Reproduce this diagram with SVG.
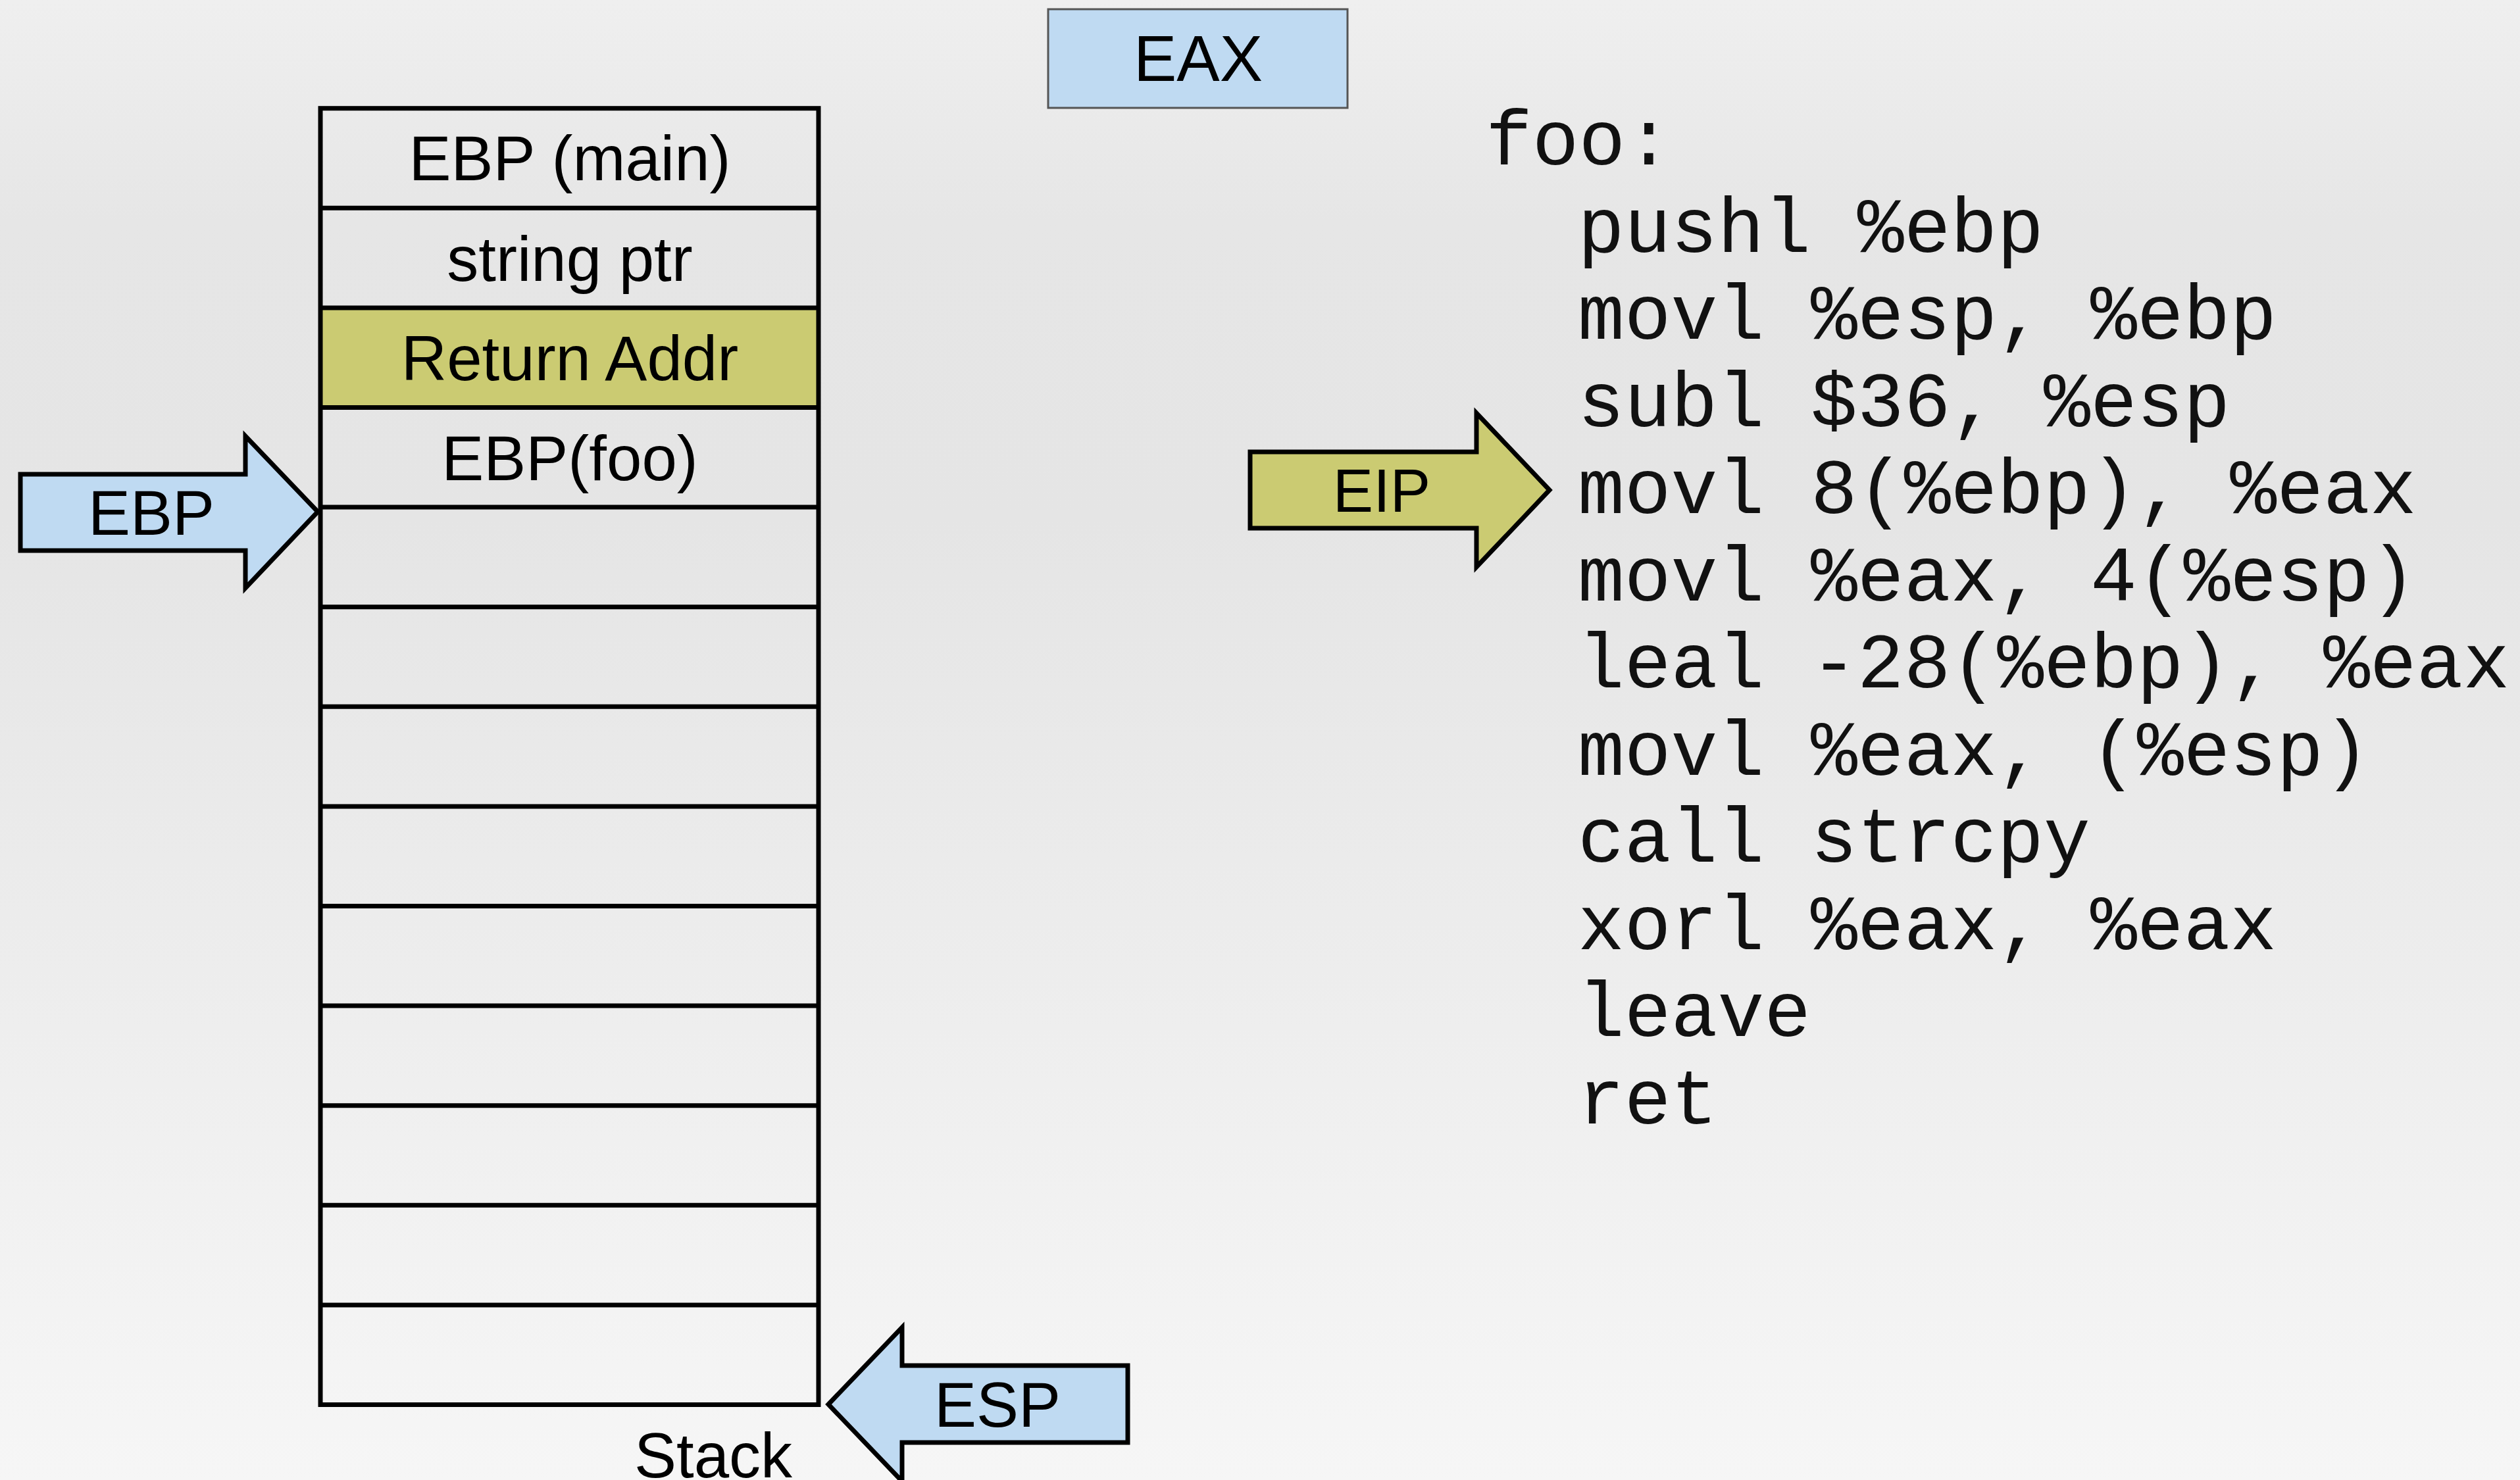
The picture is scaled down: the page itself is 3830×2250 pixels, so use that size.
<svg xmlns="http://www.w3.org/2000/svg" width="3830" height="2250" viewBox="0 0 3830 2250">
<defs>
<linearGradient id="bg" x1="0" y1="0" x2="0" y2="1">
<stop offset="0" stop-color="#efefef"/>
<stop offset="0.15" stop-color="#e6e6e6"/>
<stop offset="0.35" stop-color="#e5e5e5"/>
<stop offset="1" stop-color="#f6f6f6"/>
</linearGradient>
<style>
.lbl{font-family:"Liberation Sans",Arial,sans-serif;font-size:96px;fill:#000;text-anchor:middle}
.code{font-family:"Liberation Mono","Courier New",monospace;font-size:118px;fill:#111}
.cell{fill:none;stroke:#000;stroke-width:7}
.blue{fill:#bfdaf2;stroke:#000;stroke-width:7;stroke-linejoin:miter}
.olive{fill:#cbcb72;stroke:#000;stroke-width:7;stroke-linejoin:miter}
</style>
</defs>
<rect x="0" y="0" width="3830" height="2250" fill="url(#bg)"/>

<g id="eax">
<rect x="1593" y="14" width="455" height="150" fill="#bfdaf2" stroke="#555" stroke-width="3"/>
<text class="lbl" x="1821" y="123" style="font-size:98px">EAX</text>
</g>

<g id="stack">
<rect x="487" y="467.9" width="757" height="151.6" fill="#cbcb72"/>
<rect class="cell" x="487" y="164.7" width="757" height="1970.8"/>
<path class="cell" d="M487 316.3H1244M487 467.9H1244M487 619.5H1244M487 771.1H1244M487 922.7H1244M487 1074.3H1244M487 1225.9H1244M487 1377.5H1244M487 1529.1H1244M487 1680.7H1244M487 1832.3H1244M487 1983.9H1244"/>
<text class="lbl" x="866" y="274">EBP (main)</text>
<text class="lbl" x="866" y="427">string ptr</text>
<text class="lbl" x="866" y="578">Return Addr</text>
<text class="lbl" x="866" y="730">EBP(foo)</text>
<text class="lbl" x="1084" y="2246">Stack</text>
</g>

<g id="connectors">
<g id="ebp">
<polygon class="blue" points="31,721 373,721 373,663 483,778 373,894 373,837 31,837"/>
<text class="lbl" x="230" y="813">EBP</text>
</g>
<g id="eip">
<polygon class="olive" points="1900,687 2244,687 2244,628 2355,745 2244,862 2244,803 1900,803"/>
<text class="lbl" x="2100" y="778" style="font-size:92px">EIP</text>
</g>
<g id="esp">
<polygon class="blue" points="1714,2076 1371,2076 1371,2018 1259,2135 1371,2252 1371,2193 1714,2193"/>
<text class="lbl" x="1516" y="2169">ESP</text>
</g>
</g>

<g id="code">
<text class="code" x="2258" y="250">foo:</text>
<text class="code" x="2398" y="383">pushl %ebp</text>
<text class="code" x="2398" y="515">movl %esp, %ebp</text>
<text class="code" x="2398" y="648">subl $36, %esp</text>
<text class="code" x="2398" y="780">movl 8(%ebp), %eax</text>
<text class="code" x="2398" y="913">movl %eax, 4(%esp)</text>
<text class="code" x="2398" y="1045">leal -28(%ebp), %eax</text>
<text class="code" x="2398" y="1178">movl %eax, (%esp)</text>
<text class="code" x="2398" y="1310">call strcpy</text>
<text class="code" x="2398" y="1443">xorl %eax, %eax</text>
<text class="code" x="2398" y="1575">leave</text>
<text class="code" x="2398" y="1708">ret</text>
</g>
</svg>
